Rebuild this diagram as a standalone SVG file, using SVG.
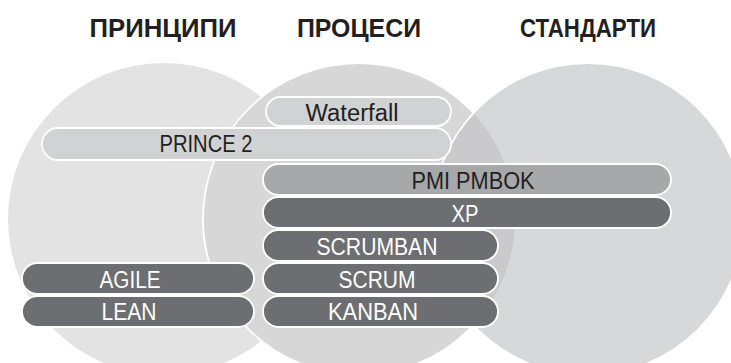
<svg xmlns="http://www.w3.org/2000/svg" width="731" height="363" viewBox="0 0 731 363">
  <style>
    .title { font-family: "Liberation Sans", Arial, sans-serif; font-weight: bold; font-size: 26px; fill: #231f20; text-anchor: middle; }
    .label { font-family: "Liberation Sans", Arial, sans-serif; font-size: 23px; text-anchor: middle; }
    .dark-text { fill: #231f20; }
    .light-text { fill: #ffffff; }
    .pill { stroke: #ffffff; stroke-width: 1.8; }
    .pill-light { fill: #d1d2d3; }
    .pill-mid { fill: #a7a8aa; }
    .pill-dark { fill: #6d6e71; }
    .ring { stroke: #ffffff; stroke-width: 1.8; }
  </style>
  <defs>
    <clipPath id="standards-disk">
      <circle cx="588" cy="219" r="156"/>
    </clipPath>
  </defs>
  <rect width="731" height="363" fill="#ffffff"/>

  <!-- three overlapping areas -->
  <g id="principles">
    <circle cx="164" cy="219" r="156" fill="#e3e3e4"/>
  </g>
  <g id="processes">
    <circle class="ring" cx="359" cy="219" r="156" fill="#d7d7d8"/>
  </g>
  <g id="standards">
    <circle cx="588" cy="219" r="156" fill="#d7d8d9"/>
    <!-- processes / standards overlap -->
    <circle cx="359" cy="219" r="156" fill="#cacacc" clip-path="url(#standards-disk)"/>
    <circle class="ring" cx="588" cy="219" r="156" fill="none"/>
  </g>

  <!-- column headings -->
  <g id="headings">
    <text class="title" x="163" y="37" textLength="147" lengthAdjust="spacingAndGlyphs">ПРИНЦИПИ</text>
    <text class="title" x="359" y="37" textLength="124" lengthAdjust="spacingAndGlyphs">ПРОЦЕСИ</text>
    <text class="title" x="588" y="37" textLength="136" lengthAdjust="spacingAndGlyphs">СТАНДАРТИ</text>
  </g>

  <!-- methods -->
  <g id="waterfall">
    <rect class="pill pill-light" x="266" y="97" width="185" height="29" rx="14.5"/>
    <text class="label dark-text" x="352" y="121" textLength="93" lengthAdjust="spacingAndGlyphs">Waterfall</text>
  </g>
  <g id="prince2">
    <rect class="pill pill-light" x="42" y="128" width="409" height="32" rx="16"/>
    <text class="label dark-text" x="206" y="152" textLength="93" lengthAdjust="spacingAndGlyphs">PRINCE 2</text>
  </g>
  <g id="pmi-pmbok">
    <rect class="pill pill-mid" x="263" y="164" width="408" height="31" rx="15.5"/>
    <text class="label dark-text" x="473" y="189" textLength="123" lengthAdjust="spacingAndGlyphs">PMI PMBOK</text>
  </g>
  <g id="xp">
    <rect class="pill pill-dark" x="263" y="197" width="408" height="31" rx="15.5"/>
    <text class="label light-text" x="465" y="222" textLength="27" lengthAdjust="spacingAndGlyphs">XP</text>
  </g>
  <g id="scrumban">
    <rect class="pill pill-dark" x="263" y="230" width="235" height="31" rx="15.5"/>
    <text class="label light-text" x="377" y="255" textLength="121" lengthAdjust="spacingAndGlyphs">SCRUMBAN</text>
  </g>
  <g id="scrum">
    <rect class="pill pill-dark" x="263" y="263" width="235" height="31" rx="15.5"/>
    <text class="label light-text" x="377" y="288" textLength="77" lengthAdjust="spacingAndGlyphs">SCRUM</text>
  </g>
  <g id="kanban">
    <rect class="pill pill-dark" x="263" y="296" width="235" height="31" rx="15.5"/>
    <text class="label light-text" x="373" y="320" textLength="90" lengthAdjust="spacingAndGlyphs">KANBAN</text>
  </g>
  <g id="agile">
    <rect class="pill pill-dark" x="22" y="263" width="232" height="31" rx="15.5"/>
    <text class="label light-text" x="130" y="288" textLength="61" lengthAdjust="spacingAndGlyphs">AGILE</text>
  </g>
  <g id="lean">
    <rect class="pill pill-dark" x="22" y="296" width="232" height="31" rx="15.5"/>
    <text class="label light-text" x="129" y="320" textLength="55" lengthAdjust="spacingAndGlyphs">LEAN</text>
  </g>
</svg>
